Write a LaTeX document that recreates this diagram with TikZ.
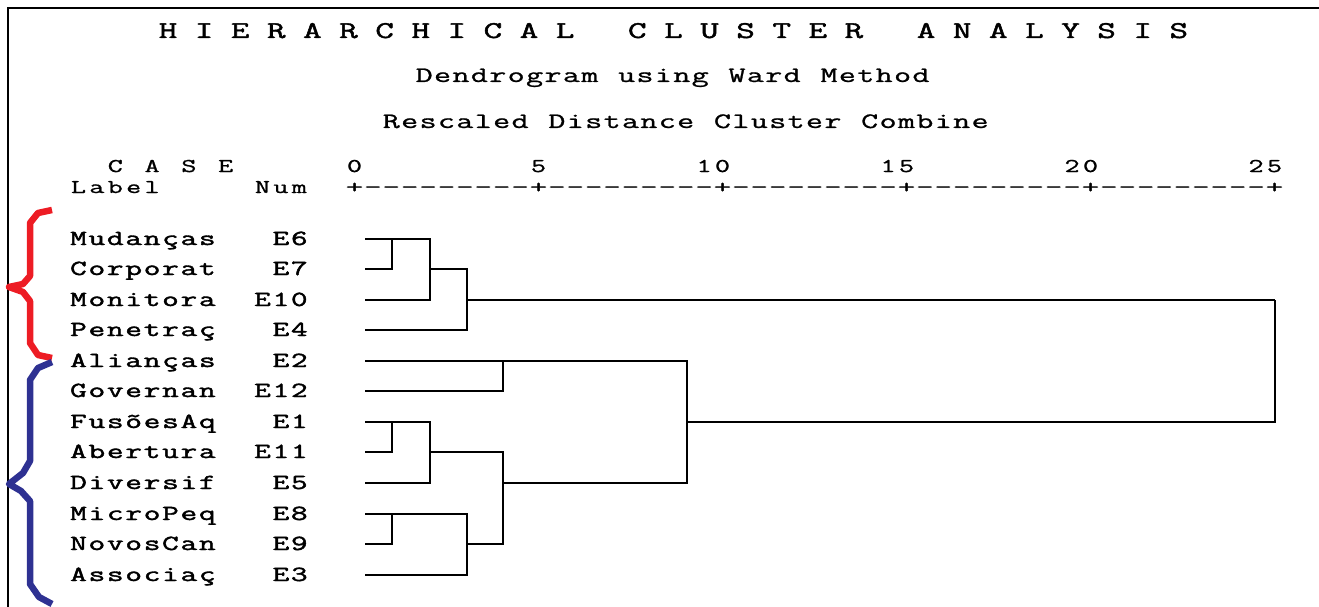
\documentclass[tikz,border=0pt]{standalone}
\usepackage{fontspec}
\usepackage{graphicx}
\newfontfamily\monoreg{Latin Modern Mono}
\newfontfamily\monoheavy{Latin Modern Mono}[FakeBold=1.6]
\newfontfamily\monomid{Latin Modern Mono}[FakeBold=0.9]

% fixed-pitch text: every character sits in a cell of width \cellw
\newlength\cellw
\setlength\cellw{18.4pt}
\newcommand\glyphstretch{1.5}
\def\gridstop{\gridstop}
\newcommand\gridtext[1]{\gridchar#1\gridstop}
\def\gridchar#1{\ifx#1\gridstop\else
  \makebox[\cellw]{\scalebox{\glyphstretch}[1]{#1}}\expandafter\gridchar\fi}

\definecolor{bracered}{RGB}{237,28,36}
\definecolor{braceblue}{RGB}{46,49,146}

\tikzset{
  txt/.style={inner sep=0pt, outer sep=0pt, anchor=base west},
  titletext/.style={txt, font=\monoheavy\fontsize{24}{24}\selectfont},
  subtext/.style={txt, font=\monomid\fontsize{22}{22}\selectfont},
  headtext/.style={txt, font=\monomid\fontsize{19.5}{19.5}\selectfont},
  casetext/.style={txt, font=\monoheavy\fontsize{21.5}{21.5}\selectfont},
  frame/.style={line width=2pt, black},
  link/.style={line width=1.6pt, black, line join=miter},
  brace/.style={line width=6.5pt, line join=round, line cap=butt},
}

\begin{document}
\begin{tikzpicture}[x=1pt, y=-1pt]
\useasboundingbox (0,0) rectangle (1319,607);

% outer frame
\draw[frame] (8,607) -- (8,8) -- (1319,8);

% headings
\node[titletext] (title) at (159,38)
  {\setlength\cellw{18.05pt}\gridtext{H~I~E~R~A~R~C~H~I~C~A~L~~~C~L~U~S~T~E~R~~~A~N~A~L~Y~S~I~S}};
\node[subtext] (method) at (415,82) {\gridtext{Dendrogram~using~Ward~Method}};
\node[subtext] (rescaled) at (382.1,128) {\gridtext{Rescaled~Distance~Cluster~Combine}};

% column headers and distance scale
\node[headtext] (case) at (106.1,172) {\gridtext{C~A~S~E}};
\node[headtext] (scale) at (345.3,172)
  {\gridtext{0~~~~~~~~~5~~~~~~~~10~~~~~~~~15~~~~~~~~20~~~~~~~~25}};
\node[headtext] (labelhead) at (69.3,193) {\gridtext{Label}};
\node[headtext, anchor=base east] (numhead) at (308.5,193) {\gridtext{Num}};
\node[headtext] (axis) at (345.3,193)
  {\renewcommand\glyphstretch{1.75}\gridtext{+---------+---------+---------+---------+---------+}};

% cases: label, number and start of each leaf line
\foreach \lab/\num/\y in {Mudanças/E6/239, Corporat/E7/269, Monitora/E10/300,
    Penetraç/E4/330, Alianças/E2/361, Governan/E12/391, FusõesAq/E1/422,
    Abertura/E11/452, Diversif/E5/483, MicroPeq/E8/514, NovosCan/E9/544,
    Associaç/E3/575}{
  \node[casetext] (lab-\num) at (69.3,\y+6) {\expandafter\gridtext\expandafter{\lab}};
  \node[casetext, anchor=base east] (num-\num) at (308.5,\y+6) {\expandafter\gridtext\expandafter{\num}};
  \coordinate (leaf-\num) at (365,\y);
}

% merge points
\coordinate (m67)   at (392,239);
\coordinate (m6710) at (430,269);
\coordinate (mtop)  at (467,300);
\coordinate (m212)  at (503,361);
\coordinate (m111)  at (392,422);
\coordinate (m1115) at (430,452);
\coordinate (m89)   at (392,514);
\coordinate (m893)  at (467,544);
\coordinate (mlow)  at (503,483);
\coordinate (mbot)  at (687,422);
\coordinate (root)  at (1275,300);

% dendrogram links
\draw[link] (leaf-E6) -| (m67);
\draw[link] (leaf-E7) -| (m67);
\draw[link] (m67) -| (m6710);
\draw[link] (leaf-E10) -| (m6710);
\draw[link] (m6710) -| (mtop);
\draw[link] (leaf-E4) -| (mtop);
\draw[link] (leaf-E2) -| (m212);
\draw[link] (leaf-E12) -| (m212);
\draw[link] (leaf-E1) -| (m111);
\draw[link] (leaf-E11) -| (m111);
\draw[link] (m111) -| (m1115);
\draw[link] (leaf-E5) -| (m1115);
\draw[link] (leaf-E8) -| (m89);
\draw[link] (leaf-E9) -| (m89);
\draw[link] (m89) -| (m893);
\draw[link] (leaf-E3) -| (m893);
\draw[link] (m1115) -| (mlow);
\draw[link] (m893) -| (mlow);
\draw[link] (m212) -| (mbot);
\draw[link] (mlow) -| (mbot);
\draw[link] (mtop) -| (root);
\draw[link] (mbot) -| (root);

% group braces
\draw[brace, bracered] (52,210) -- (38,213) -- (30,223) -- (30,276) -- (23,284)
  -- (9,287) -- (23,292) -- (30,301) -- (30,343) -- (38,355) -- (52,358);
\draw[brace, braceblue] (52,362) -- (38,368) -- (30,380) -- (30,461) -- (23,473)
  -- (9,484) -- (21,491) -- (30,501) -- (30,584) -- (39,597) -- (52,604);
\end{tikzpicture}
\end{document}
